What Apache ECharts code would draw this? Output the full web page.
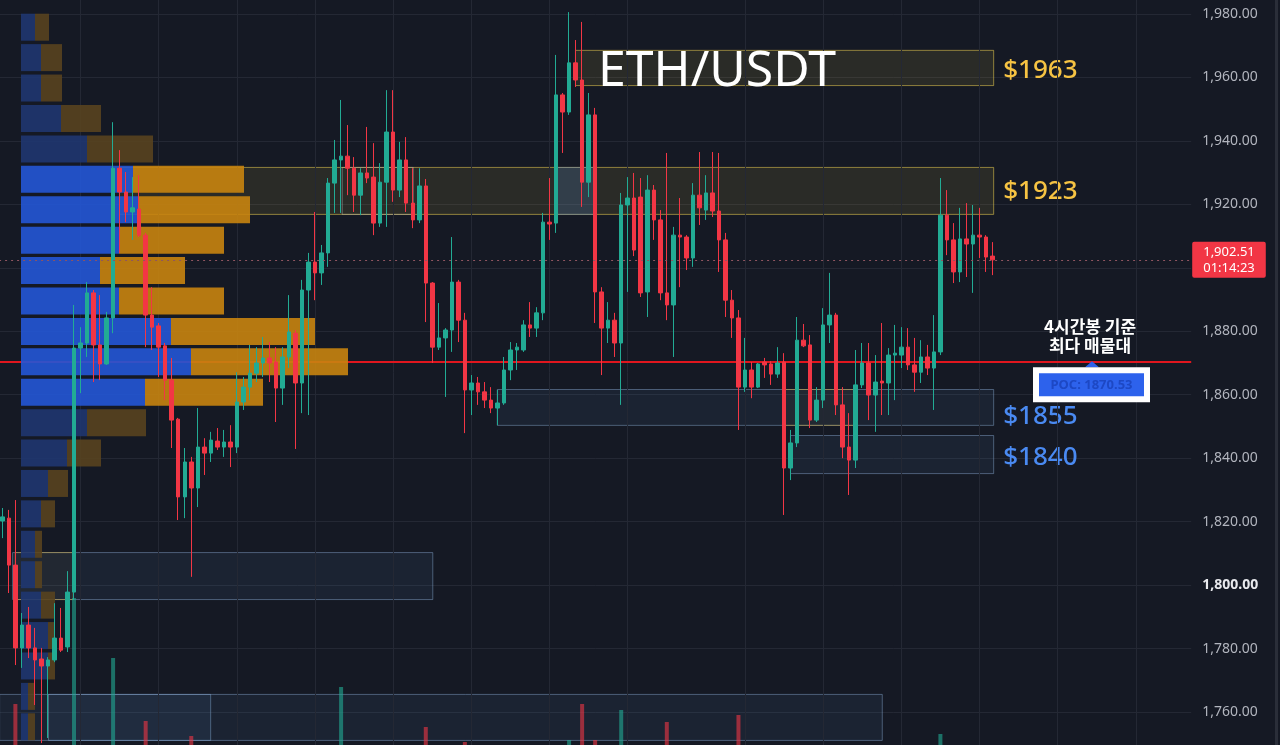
<!DOCTYPE html>
<html><head><meta charset="utf-8">
<script src="https://cdn.jsdelivr.net/npm/echarts@6/dist/echarts.min.js"></script>
<style>html,body{margin:0;padding:0;background:#151924;overflow:hidden}#c{width:1280px;height:745px}</style>
</head><body><div id="c"></div>
<script>
// ---------- DATA ----------
const pairName = 'ETH/USDT';
// [open, close, low, high] per 4h candle
const candles = [
[1820.2,1821.5,1814.8,1824.3],[1821.1,1806.3,1797.5,1823.7],[1806.3,1780.2,1774.8,1826.8],[1780.2,1787.4,1773.9,1791.2],
[1787.4,1780.2,1777.0,1793.1],[1780.2,1776.4,1762.2,1786.5],[1776.7,1774.5,1750.2,1780.2],[1774.5,1776.4,1751.8,1777.3],
[1776.4,1783.3,1775.7,1794.3],[1783.3,1779.5,1778.9,1792.8],[1780.5,1797.8,1778.9,1804.4],[1797.8,1874.7,1795.3,1888.3],
[1874.7,1876.3,1860.5,1881.3],[1876.3,1892.1,1871.9,1895.5],[1892.1,1875.7,1864.0,1893.0],[1875.7,1869.7,1864.6,1891.4],
[1869.7,1884.2,1869.4,1886.1],[1884.2,1931.4,1879.4,1945.9],[1931.4,1923.9,1904.7,1937.1],[1923.9,1917.6,1914.4,1930.2],
[1917.6,1918.9,1908.8,1928.6],[1918.5,1910.3,1909.7,1929.2],[1910.3,1885.1,1875.0,1911.0],[1885.1,1881.3,1874.1,1893.9],
[1881.7,1875.0,1865.6,1882.6],[1875.4,1864.6,1858.3,1876.3],[1864.6,1852.0,1843.2,1871.6],[1852.3,1827.8,1820.5,1852.7],
[1827.8,1838.8,1821.1,1843.2],[1838.8,1830.6,1802.6,1840.4],[1830.6,1843.5,1824.6,1855.8],[1843.5,1841.6,1834.7,1846.3],
[1841.6,1845.7,1838.8,1848.3],[1845.4,1843.5,1842.6,1849.5],[1843.5,1845.1,1840.4,1848.9],[1845.1,1843.5,1837.2,1850.4],
[1843.5,1857.7,1841.6,1867.1],[1857.7,1862.4,1855.2,1865.6],[1862.4,1866.8,1858.3,1875.7],[1866.8,1870.0,1864.0,1875.0],
[1870.0,1871.6,1865.6,1878.2],[1871.6,1870.0,1864.0,1876.6],[1870.3,1862.1,1851.4,1875.0],[1862.1,1871.9,1856.8,1875.0],
[1871.9,1879.8,1868.4,1891.4],[1879.4,1863.7,1842.9,1880.4],[1863.7,1893.0,1854.2,1896.2],[1893.0,1901.8,1853.6,1904.7],
[1901.8,1898.4,1889.8,1917.6],[1898.4,1904.7,1894.6,1907.2],[1904.7,1926.7,1900.3,1928.3],[1926.7,1934.0,1917.3,1940.3],
[1934.0,1935.2,1917.3,1952.9],[1935.2,1931.4,1922.9,1945.0],[1931.4,1922.9,1917.6,1934.9],[1922.9,1929.9,1916.6,1931.4],
[1929.9,1928.3,1926.7,1944.4],[1928.6,1914.1,1910.3,1939.3],[1914.1,1927.0,1912.9,1933.0],[1927.0,1942.8,1912.9,1956.0],
[1942.8,1924.5,1920.8,1956.0],[1924.5,1934.0,1922.3,1939.7],[1934.0,1920.4,1917.6,1941.2],[1920.4,1915.1,1912.5,1931.4],
[1915.1,1925.8,1914.1,1931.4],[1925.8,1895.2,1882.9,1928.0],[1895.2,1875.0,1870.0,1895.5],[1875.0,1877.9,1874.1,1888.9],
[1877.9,1880.4,1859.3,1881.0],[1880.4,1895.5,1873.5,1909.7],[1895.5,1883.5,1876.6,1896.2],[1883.5,1861.5,1847.9,1885.8],
[1861.5,1863.7,1853.6,1866.2],[1863.7,1860.9,1856.8,1865.6],[1860.9,1858.3,1855.8,1864.0],[1858.3,1855.8,1854.2,1862.4],
[1855.8,1857.4,1850.4,1861.5],[1857.4,1867.8,1856.8,1871.9],[1867.8,1874.1,1864.6,1876.6],[1874.1,1875.0,1867.8,1876.3],
[1874.1,1882.0,1873.5,1883.5],[1882.0,1881.0,1878.2,1889.2],[1881.0,1885.8,1878.2,1887.6],[1885.8,1914.4,1883.5,1917.3],
[1914.4,1913.8,1908.8,1928.3],[1914.1,1954.5,1911.0,1967.1],[1954.5,1949.1,1936.2,1955.1],[1949.1,1964.6,1948.2,1980.6],
[1964.6,1959.2,1957.0,1971.8],[1959.2,1927.0,1919.2,1977.5],[1927.0,1948.2,1922.3,1955.1],[1948.2,1892.4,1882.6,1950.4],
[1892.4,1881.0,1866.2,1893.9],[1881.0,1883.5,1876.3,1889.2],[1883.5,1876.3,1871.9,1885.8],[1876.3,1919.8,1856.8,1923.6],
[1919.8,1922.0,1892.4,1928.6],[1922.0,1905.6,1903.7,1929.9],[1922.3,1892.1,1890.8,1928.3],[1892.4,1924.5,1884.5,1929.2],
[1924.5,1915.1,1908.8,1926.1],[1915.1,1892.1,1889.8,1918.2],[1892.1,1888.3,1883.5,1936.2],[1888.3,1910.3,1871.9,1912.9],
[1910.3,1909.7,1893.9,1922.0],[1909.7,1903.1,1899.3,1910.3],[1903.1,1922.9,1900.3,1926.7],[1922.9,1918.9,1913.5,1936.5],
[1918.2,1923.6,1915.1,1929.2],[1923.6,1917.9,1916.0,1936.5],[1917.9,1908.8,1898.7,1936.2],[1908.8,1889.8,1884.5,1911.0],
[1889.8,1884.2,1877.9,1893.0],[1884.2,1862.4,1848.9,1886.7],[1862.4,1867.8,1860.9,1877.9],[1867.8,1862.4,1858.9,1870.3],
[1862.4,1869.7,1862.1,1870.0],[1870.3,1869.4,1865.3,1871.6],[1869.7,1866.5,1863.1,1870.6],[1866.5,1870.0,1865.3,1875.0],
[1870.3,1836.9,1822.1,1873.1],[1836.9,1844.8,1833.1,1848.9],[1844.8,1877.2,1843.5,1884.5],[1877.2,1875.4,1875.0,1882.3],
[1875.7,1852.0,1849.5,1878.8],[1852.0,1858.3,1851.4,1862.4],[1858.3,1882.0,1855.8,1887.3],[1882.0,1885.1,1876.3,1898.4],
[1885.1,1856.8,1853.6,1885.8],[1856.8,1843.5,1840.0,1862.4],[1843.5,1839.4,1828.4,1854.2],[1839.4,1863.1,1836.9,1874.1],
[1863.1,1870.0,1862.1,1876.3],[1870.0,1859.9,1852.0,1876.3],[1859.9,1864.0,1848.3,1872.5],[1864.3,1863.7,1853.6,1882.6],
[1863.7,1872.5,1853.6,1874.7],[1872.5,1873.1,1858.3,1882.0],[1872.5,1875.0,1868.4,1881.3],[1875.0,1869.4,1867.8,1881.0],
[1869.4,1867.1,1860.9,1877.9],[1867.1,1871.9,1863.7,1877.2],[1871.9,1868.4,1866.2,1875.7],[1868.4,1873.5,1855.2,1885.1],
[1873.5,1916.6,1872.5,1928.3],[1916.6,1908.8,1904.0,1924.5],[1908.8,1898.7,1895.2,1914.1],[1898.7,1909.1,1895.5,1918.9],
[1909.1,1907.5,1897.1,1920.4],[1907.5,1910.3,1892.1,1919.8],[1910.3,1909.7,1903.1,1918.9],[1909.7,1903.4,1898.7,1910.3],
[1903.7,1902.51,1897.7,1908.1]
];
const volumes = [
60,85,136,70,55,75,80,60,65,50,90,242,80,85,80,60,55,182,90,60,50,60,119,60,55,70,85,90,70,104,
80,45,40,35,35,40,75,45,55,45,40,40,60,55,65,85,80,75,60,50,85,70,153,70,55,50,55,65,60,90,
85,55,60,50,55,113,80,50,55,75,55,98,45,40,40,40,45,60,50,35,50,40,40,90,60,92,70,100,75,136,
85,100,80,50,55,130,60,70,80,85,55,75,118,85,60,45,70,60,45,55,75,80,60,125,60,45,40,35,40,40,
92,60,85,45,80,50,75,60,80,70,75,85,50,65,60,50,55,45,40,45,45,45,35,70,106,65,60,55,50,55,40,45,30
];
const totalSlots = 183;               // candle slots incl. empty right margin
const timeGridSlots = [12,24,36,48,60,72,84,96,114,126,138,150,162,174];
const lastPrice = 1902.51;
const countdown = '01:14:23';
const pocPrice = 1870.53;
const pocNote = ['4시간봉 기준', '최다 매물대'];
// volume profile rows (top -> bottom): buy / sell volume
const profileBuy  = [14,20,20,40,66,112,118,98,79,98,150,170,124,66,46,27,20,14,14,20,27,27,7,7];
const profileSell = [14,21,21,40,66,111,111,105,85,105,144,157,118,59,34,20,14,7,7,14,7,7,7,7];
const valueAreaRows = [5,6,7,8,9,10,11,12];
// zones: [fromSlot, toSlot, lowPrice, highPrice, kind]
const zones = [
[87.9,152.1,1957.6,1968.7,0],
[17.9,152.1,1917.0,1931.8,0],
[75.9,152.1,1850.5,1861.8,1],
[120.9,152.1,1835.3,1847.3,1],
[1.5,66.0,1795.6,1810.4,1],
[1.9,10.8,1795.6,1810.4,2],
[-0.5,31.9,1751.2,1765.7,1],
[7.0,135.0,1751.2,1765.7,1],
[52.1,63.0,1917.0,1931.8,3],
[84.8,91.0,1917.0,1931.8,4],
[119.9,131.2,1850.5,1861.8,2]
];
const zoneLabels = ['$1963','$1923','$1855','$1840','','','','','','',''];

// ---------- STYLES ----------
const UP = '#22ab94', DOWN = '#f23645';
const zoneStyles = [
  {fill:'rgba(240,210,70,0.10)', stroke:'rgba(235,205,80,0.55)', text:'#f6c343'},
  {fill:'rgba(90,140,200,0.09)', stroke:'rgba(140,175,215,0.45)', text:'#4a8af2'},
  {fill:'rgba(240,190,60,0.04)', stroke:'rgba(235,190,70,0.45)', text:'#f6c343'},
  {fill:'rgba(0,0,0,0)', stroke:'rgba(220,220,220,0.35)', text:'#fff'},
  {fill:'rgba(80,130,200,0.22)', stroke:'rgba(130,170,230,0.35)', text:'#fff'}
];
const labelNudge = {0: 3, 1: 1, 2: 10, 3: 4};   // px, keeps $1855 clear of the POC tag

const slots = Array.from({length: totalSlots}, (_, i) => String(i));
const volData = volumes.map((v, i) => ({
  value: v,
  itemStyle: {color: candles[i][1] >= candles[i][0] ? 'rgba(34,171,148,0.6)' : 'rgba(242,54,69,0.6)'}
}));
const rows = profileBuy.map((_, k) => String(k));
const buyData = profileBuy.map((v, k) => ({value: v, itemStyle: {color: valueAreaRows.includes(k) ? '#2457d6' : '#1f3670'}}));
const sellData = profileSell.map((v, k) => ({value: v, itemStyle: {color: valueAreaRows.includes(k) ? '#c8840f' : '#58431f'}}));

const chart = echarts.init(document.getElementById('c'), null, {renderer: 'canvas'});

function renderZone(params, api) {
  const a = api.coord([api.value(0), api.value(3)]);
  const b = api.coord([api.value(1), api.value(2)]);
  const st = zoneStyles[api.value(4)];
  const children = [{
    type: 'rect',
    shape: {x: a[0] + 0.5, y: a[1] + 0.5, width: b[0] - a[0], height: b[1] - a[1]},
    style: {fill: st.fill, stroke: st.stroke, lineWidth: 1}
  }];
  const label = zoneLabels[params.dataIndex];
  if (label) {
    children.push({
      type: 'text', x: b[0] + 10, y: (a[1] + b[1]) / 2 + (labelNudge[params.dataIndex] || 0),
      style: {text: label, fill: st.text, font: '500 26px "Noto Sans"', align: 'left', verticalAlign: 'middle'}
    });
  }
  return {type: 'group', children};
}

const option = {
  animation: false,
  backgroundColor: '#151924',
  grid: [
    {left: -0.9, width: 1192.1, top: -49.45, height: 824.9, containLabel: false, outerBoundsMode: 'none'},
    {left: -0.9, width: 1192.1, top: 590, height: 250, containLabel: false, outerBoundsMode: 'none'},
    {left: 21, width: 1000, top: 12, height: 730, containLabel: false, outerBoundsMode: 'none'}
  ],
  xAxis: [
    {type: 'category', gridIndex: 0, data: slots, boundaryGap: true, show: false},
    {type: 'value', gridIndex: 0, min: -0.5, max: totalSlots - 0.5, show: false},
    {type: 'category', gridIndex: 1, data: slots, boundaryGap: true, show: false},
    {type: 'value', gridIndex: 2, min: 0, max: 1000, show: false}
  ],
  yAxis: [
    {type: 'value', gridIndex: 0, position: 'right', min: 1740, max: 2000, interval: 20,
     axisLine: {show: false}, axisTick: {show: false},
     splitLine: {show: true, lineStyle: {color: '#242834', width: 1}},
     axisLabel: {
       margin: 11, color: '#b2b5be', fontSize: 14, fontFamily: 'Noto Sans',
       formatter: v => {
         const s = v.toLocaleString('en-US', {minimumFractionDigits: 2, maximumFractionDigits: 2});
         return v === 1800 ? '{b|' + s + '}' : s;
       },
       rich: {b: {color: '#e8e9ed', fontWeight: 'bold', fontSize: 14, fontFamily: 'Noto Sans'}}
     }},
    {type: 'value', gridIndex: 1, min: 0, max: 250, show: false},
    {type: 'category', gridIndex: 2, data: rows, inverse: true, show: false}
  ],
  series: [
    {
      type: 'custom', name: 'zones', xAxisIndex: 1, yAxisIndex: 0, z: 1, clip: false,
      renderItem: renderZone,
      encode: {x: [0, 1], y: [2, 3]},
      data: zones,
      silent: true,
      markLine: {
        silent: true, symbol: 'none', z: 2, animation: false,
        label: {show: false},
        data: [
          ...timeGridSlots.map(s => ({xAxis: s, lineStyle: {color: '#242834', width: 1, type: 'solid'}})),
          {yAxis: pocPrice, lineStyle: {color: '#e0161e', width: 2, type: 'solid'}}
        ]
      }
    },
    {
      type: 'bar', name: 'volume', xAxisIndex: 2, yAxisIndex: 1, z: 3,
      barWidth: 4, data: volData, silent: true
    },
    {
      type: 'bar', name: 'buy', xAxisIndex: 3, yAxisIndex: 2, stack: 'vp', z: 4,
      barWidth: 27, data: buyData, silent: true, itemStyle: {opacity: 0.9}
    },
    {
      type: 'bar', name: 'sell', xAxisIndex: 3, yAxisIndex: 2, stack: 'vp', z: 4,
      barWidth: 27, data: sellData, silent: true, itemStyle: {opacity: 0.9}
    },
    {
      type: 'candlestick', name: pairName, xAxisIndex: 0, yAxisIndex: 0, z: 6,
      barWidth: 4, data: candles, silent: true,
      itemStyle: {color: UP, color0: DOWN, borderColor: UP, borderColor0: DOWN, borderWidth: 1},
      markLine: {
        silent: true, symbol: 'none', z: 7, animation: false,
        data: [{
          yAxis: lastPrice,
          lineStyle: {color: '#8f5560', width: 1, type: [2, 4]},
          label: {
            show: true, position: 'end', distance: 1,
            formatter: lastPrice.toLocaleString('en-US', {minimumFractionDigits: 2}) + '\n' + countdown,
            backgroundColor: '#f23645', color: '#ffffff', fontSize: 13, lineHeight: 16,
            fontFamily: 'Noto Sans', padding: [2, 11, 2, 11], borderRadius: 2
          }
        }]
      }
    }
  ]
};
chart.setOption(option);

const yPoc = chart.convertToPixel({yAxisIndex: 0}, pocPrice);
const noteX = 1090;
chart.setOption({
  graphic: [
    {type: 'rect', shape: {x: 1275, y: 0, width: 3, height: 745}, style: {fill: '#2a2e39'}, silent: true},
    {type: 'text', x: 598, y: 72, style: {text: pairName, fill: '#ffffff', font: '50px "Noto Sans"', align: 'left', verticalAlign: 'middle'}, z: 20},
    {type: 'text', x: noteX, y: yPoc - 35, style: {text: pocNote[0], fill: '#ffffff', font: 'bold 17px "Noto Sans CJK KR"', align: 'center', verticalAlign: 'middle'}, z: 20},
    {type: 'text', x: noteX, y: yPoc - 16, style: {text: pocNote[1], fill: '#ffffff', font: 'bold 17px "Noto Sans CJK KR"', align: 'center', verticalAlign: 'middle'}, z: 20},
    {type: 'polygon', shape: {points: [[noteX + 2, yPoc], [noteX - 5, yPoc + 6], [noteX + 9, yPoc + 6]]}, style: {fill: '#2d62ec'}, z: 20},
    {type: 'rect', shape: {x: 1033, y: yPoc + 6, width: 117, height: 35}, style: {fill: '#ffffff'}, z: 20},
    {type: 'rect', shape: {x: 1039, y: yPoc + 12, width: 105, height: 23}, style: {fill: '#2d62ec'}, z: 21},
    {type: 'text', x: 1091.5, y: yPoc + 24, style: {text: 'POC: ' + pocPrice.toFixed(2), fill: '#1d48c4', font: 'bold 13px "Noto Sans"', align: 'center', verticalAlign: 'middle'}, z: 22}
  ]
});
</script></body></html>
